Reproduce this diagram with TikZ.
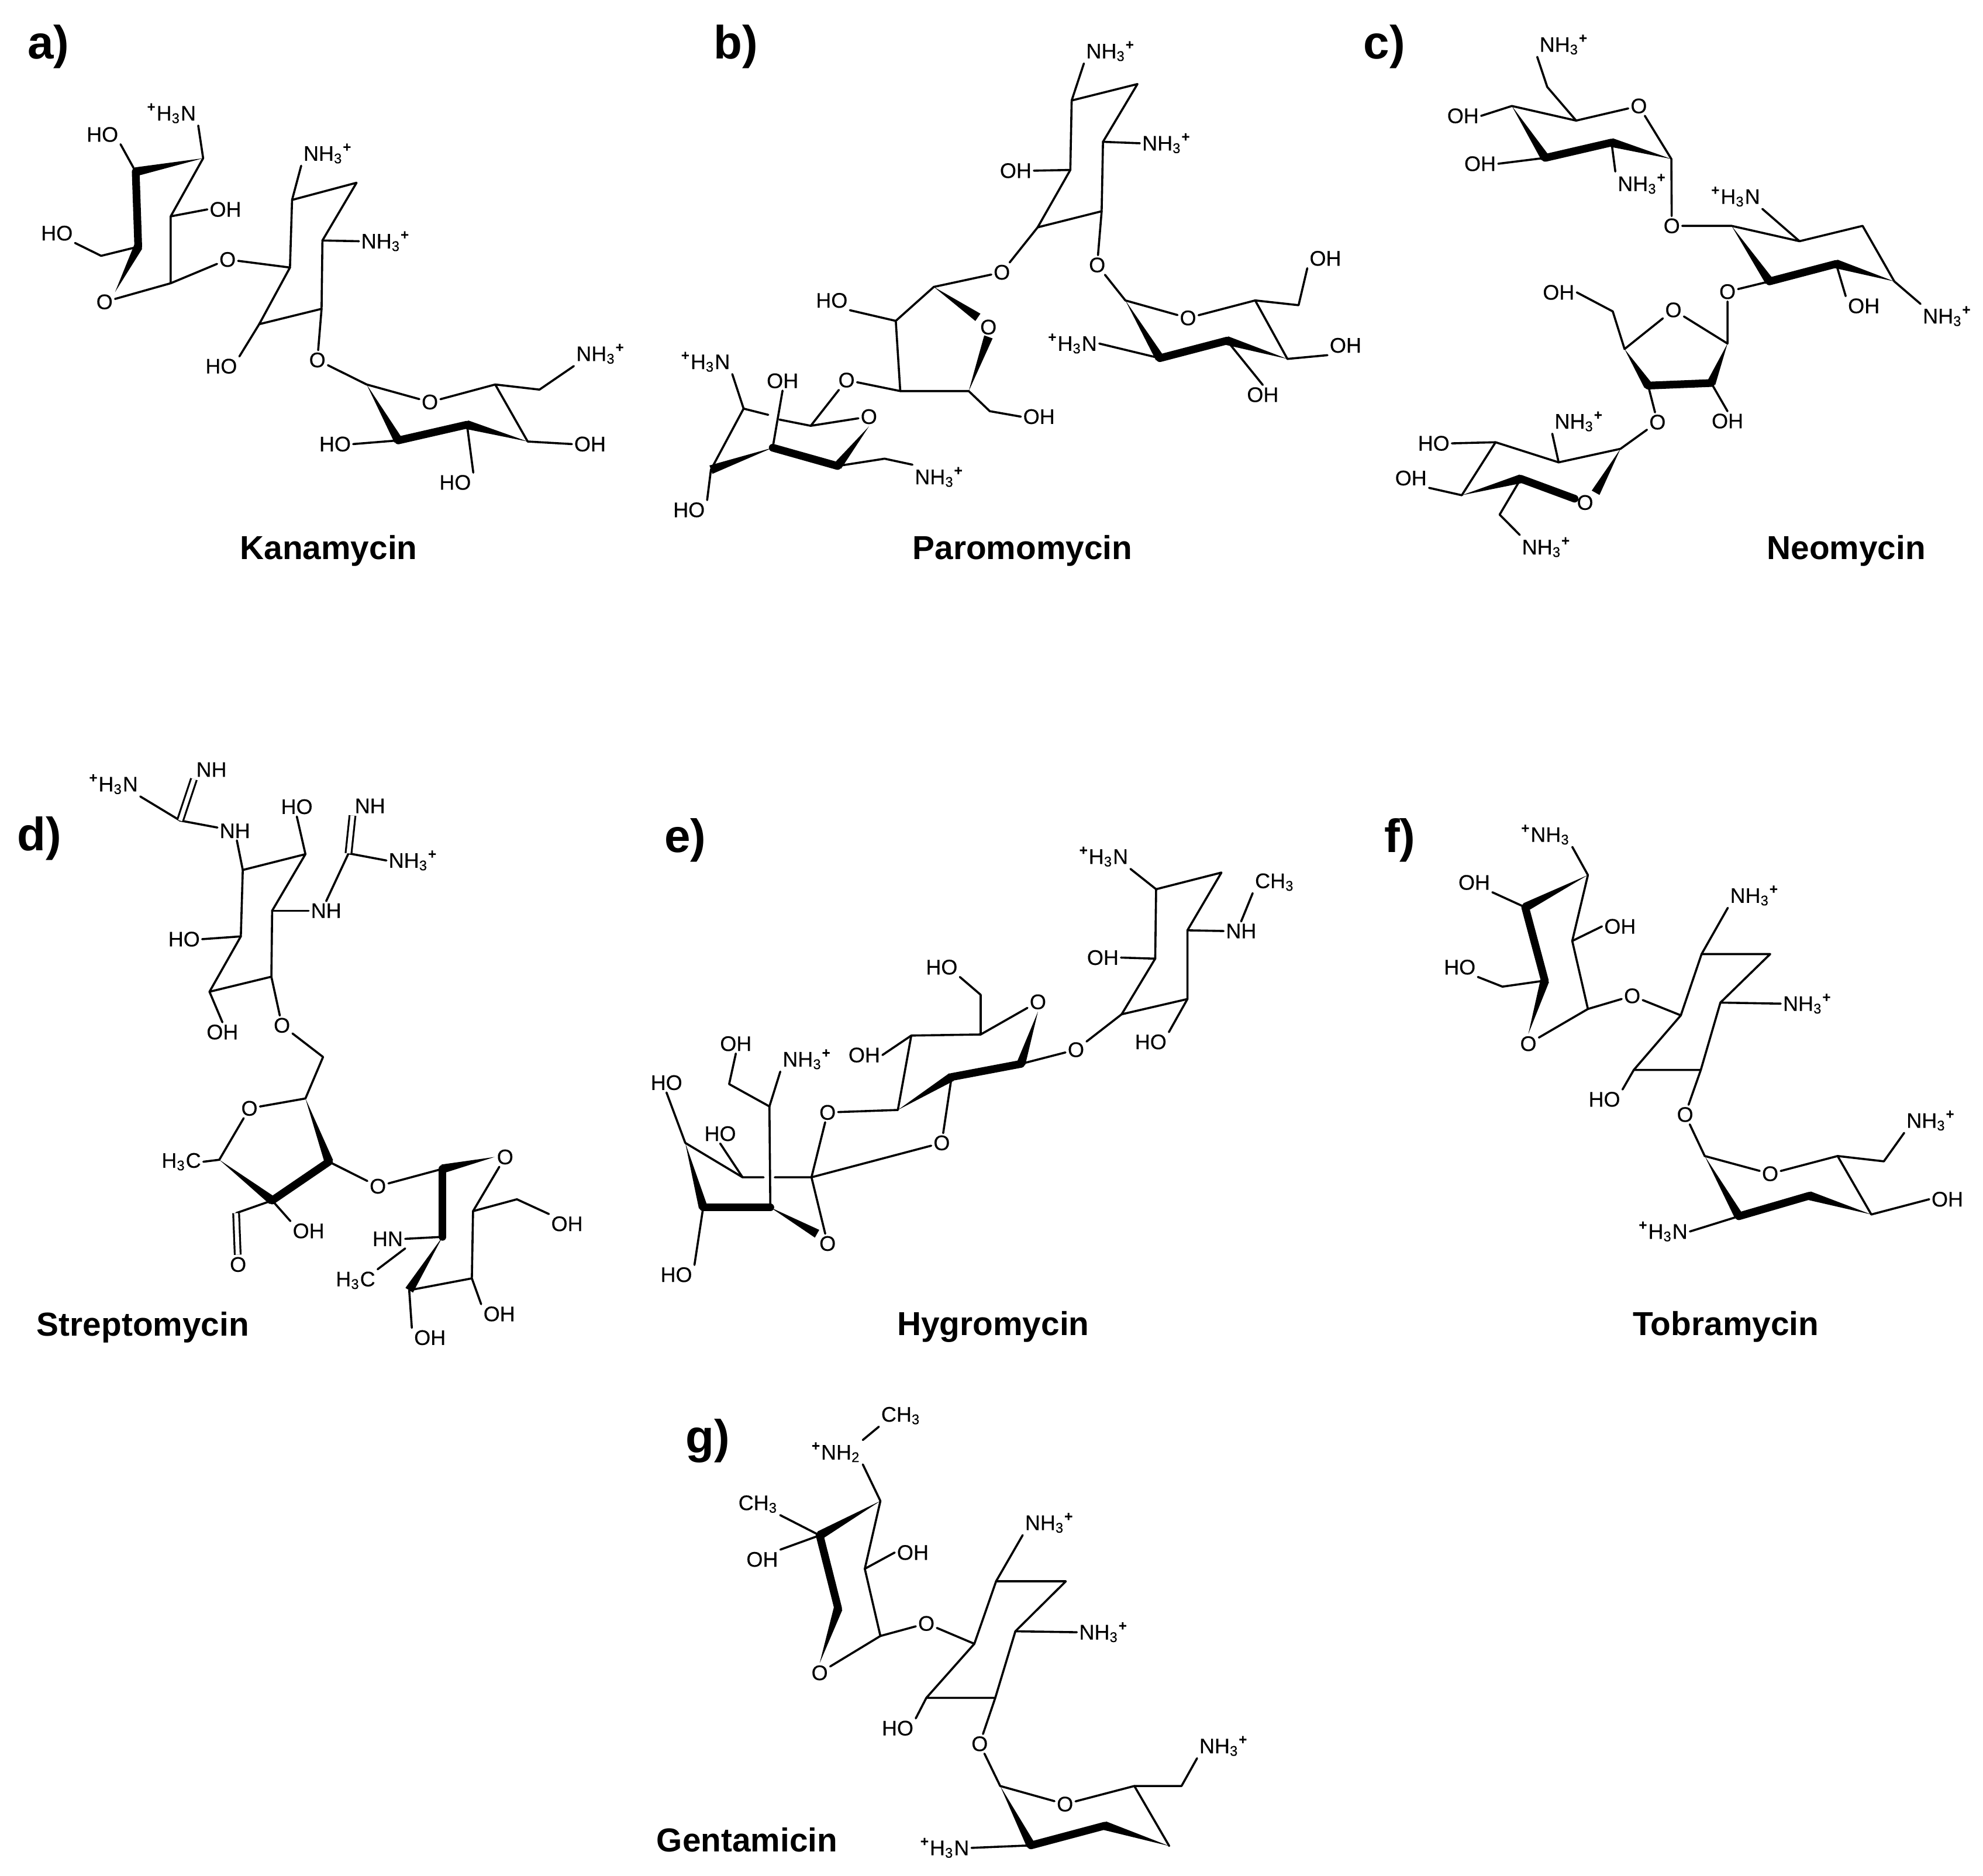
\documentclass[tikz,border=0pt]{standalone}
\usepackage{fontspec}
\setmainfont{Liberation Sans}
\newfontfamily\atomfont[FakeBold=0.3]{Liberation Sans}
\usetikzlibrary{calc}

\newcommand{\nhthree}{NH\textsubscript{3}\textsuperscript{\textbf{+}}}
\newcommand{\hthreen}{\textsuperscript{\textbf{+}}H\textsubscript{3}N}
\newcommand{\hthreec}{H\textsubscript{3}C}
\newcommand{\chthree}{CH\textsubscript{3}}
\newcommand{\wedgebond}[2]{\fill (#1) -- ($(#2)!1.9pt!90:(#1)$) -- ($(#2)!1.9pt!-90:(#1)$) -- cycle;}

\begin{document}
\begin{tikzpicture}[
    atom/.style={inner sep=0.8pt, font=\atomfont\fontsize{9}{10}\selectfont},
    drugname/.style={inner sep=0pt, yshift=-1pt, font=\bfseries\fontsize{14.2}{16}\selectfont},
    letter/.style={inner sep=0pt, yshift=-0.5pt, font=\bfseries\fontsize{20}{22}\selectfont},
    bond/.style={line width=0.9pt, line join=round, line cap=round},
    boldbond/.style={line width=3.3pt, line join=round, line cap=round},
    twobond/.style={line width=0.8pt, double, double distance=1.7pt}
]
\useasboundingbox (0pt,0pt) rectangle (847.75pt,-802pt);

% Kanamycin
\begin{scope}[shift={(0pt,0pt)}, x=0.18017pt, y=-0.15625pt]
\node[letter] (kanLetter) at (115,125) {a)};
\node[drugname] (kanName) at (780,1500) {Kanamycin};
\coordinate (kanC1) at (322,470);
\coordinate (kanC2) at (482,433);
\coordinate (kanC3) at (405,592);
\coordinate (kanC4) at (405,775);
\coordinate (kanC5) at (328,675);
\coordinate (kanC6) at (240,700);
\coordinate (kanD1) at (688,732);
\coordinate (kanD2) at (693,547);
\coordinate (kanD3) at (846,500);
\coordinate (kanD4) at (765,658);
\coordinate (kanD5) at (763,845);
\coordinate (kanD6) at (615,887);
\coordinate (kanE1) at (870,1052);
\coordinate (kanE2) at (1175,1052);
\coordinate (kanE3) at (1252,1208);
\coordinate (kanE4) at (1108,1162);
\coordinate (kanE5) at (945,1205);
\coordinate (kanE6) at (1280,1066);
\node[atom] (kanHO1) at (243,368) {HO};
\node[atom] (kanN1) at (407,310) {\hthreen};
\node[atom] (kanOH1) at (535,573) {OH};
\node[atom] (kanHO2) at (135,638) {HO};
\node[atom] (kanO1) at (248,826) {O};
\node[atom] (kanO2) at (540,710) {O};
\node[atom] (kanN2) at (778,420) {\nhthree};
\node[atom] (kanN3) at (915,660) {\nhthree};
\node[atom] (kanHO3) at (525,1002) {HO};
\node[atom] (kanO3) at (753,985) {O};
\node[atom] (kanO4) at (1020,1100) {O};
\node[atom] (kanN4) at (1425,968) {\nhthree};
\node[atom] (kanHO4) at (795,1215) {HO};
\node[atom] (kanHO5) at (1080,1320) {HO};
\node[atom] (kanOH2) at (1400,1215) {OH};
\draw[bond] (kanC1) -- (kanHO1.south east);
\draw[bond] (kanC2) -- (kanN1.south east) (kanC2) -- (kanC3) -- (kanC4) -- (kanO1);
\draw[bond] (kanC3) -- (kanOH1.west);
\draw[bond] (kanHO2.south east) -- (kanC6) -- (kanC5);
\draw[bond] (kanC4) -- (kanO2) -- (kanD1);
\draw[bond] (kanD1) -- (kanD2) -- (kanD3) -- (kanD4) -- (kanD5) -- (kanD6) -- cycle;
\draw[bond] (kanD2) -- (kanN2.south west);
\draw[bond] (kanD4) -- (kanN3.west);
\draw[bond] (kanD6) -- (kanHO3.north east);
\draw[bond] (kanD5) -- (kanO3) -- (kanE1) -- (kanO4) -- (kanE2) -- (kanE3);
\draw[bond] (kanE2) -- (kanE6) -- (kanN4.south west);
\draw[bond] (kanE5) -- (kanHO4.east);
\draw[bond] (kanE4) -- (kanHO5.north east);
\draw[bond] (kanE3) -- (kanOH2.west);
\wedgebond{kanC2}{kanC1}
\draw[boldbond] (kanC1) -- (kanC5);
\wedgebond{kanO1.north east}{kanC5}
\wedgebond{kanE1}{kanE5}
\draw[boldbond] (kanE5) -- (kanE4);
\wedgebond{kanE3}{kanE4}
\end{scope}

% Paromomycin
\begin{scope}[shift={(282.5pt,0pt)}, x=0.19133pt, y=-0.15625pt]
\node[letter] (parLetter) at (168,125) {b)};
\node[drugname] (parName) at (808,1500) {Paromomycin};
\coordinate (parC1) at (918,275);
\coordinate (parC2) at (1065,230);
\coordinate (parC3) at (988,388);
\coordinate (parC4) at (985,578);
\coordinate (parC5) at (842,622);
\coordinate (parC6) at (915,465);
\coordinate (parD1) at (610,785);
\coordinate (parD2) at (525,878);
\coordinate (parD3) at (535,1070);
\coordinate (parD4) at (688,1070);
\coordinate (parD5) at (735,1125);
\coordinate (parE1) at (335,1165);
\coordinate (parE2) at (395,1275);
\coordinate (parE3) at (250,1225);
\coordinate (parE4) at (112,1285);
\coordinate (parE5) at (185,1118);
\coordinate (parE6) at (500,1255);
\coordinate (parE7) at (240,1135);
\coordinate (parE8) at (265,1148);
\coordinate (parF1) at (1038,822);
\coordinate (parF2) at (1328,822);
\coordinate (parF3) at (1400,982);
\coordinate (parF4) at (1265,932);
\coordinate (parF5) at (1115,980);
\coordinate (parF6) at (1425,835);
\node[atom] (parN1) at (1005,140) {\nhthree};
\node[atom] (parN2) at (1130,392) {\nhthree};
\node[atom] (parOH1) at (793,467) {OH};
\node[atom] (parO1) at (975,725) {O};
\node[atom] (parO2) at (762,745) {O};
\node[atom] (parO3) at (732,895) {O};
\node[atom] (parHO1) at (382,822) {HO};
\node[atom] (parO4) at (415,1040) {O};
\node[atom] (parOH2) at (845,1140) {OH};
\node[atom] (parO5) at (465,1140) {O};
\node[atom] (parOH3) at (272,1042) {OH};
\node[atom] (parN3) at (100,990) {\hthreen};
\node[atom] (parN4) at (622,1305) {\nhthree};
\node[atom] (parHO2) at (63,1395) {HO};
\node[atom] (parO6) at (1178,870) {O};
\node[atom] (parOH4) at (1485,707) {OH};
\node[atom] (parOH5) at (1530,945) {OH};
\node[atom] (parOH6) at (1345,1080) {OH};
\node[atom] (parN5) at (920,940) {\hthreen};
\draw[bond] (parC1) -- (parC2) -- (parC3) -- (parC4) -- (parC5) -- (parC6) -- cycle;
\draw[bond] (parC1) -- (parN1.south west);
\draw[bond] (parC3) -- (parN2.west);
\draw[bond] (parC6) -- (parOH1.east);
\draw[bond] (parC4) -- (parO1);
\draw[bond] (parC5) -- (parO2) -- (parD1) -- (parD2) -- (parD3) -- (parD4);
\draw[bond] (parD2) -- (parHO1.south east);
\draw[bond] (parD3) -- (parO4) -- (parE1) -- (parO5);
\draw[bond] (parD4) -- (parD5) -- (parOH2.west);
\draw[bond] (parE5) -- (parE4);
\draw[bond] (parE5) -- (parE7) (parE8) -- (parE1);
\draw[bond] (parE3) -- (parOH3.south);
\draw[bond] (parE5) -- (parN3.south east);
\draw[bond] (parE2) -- (parE6) -- (parN4.north west);
\draw[bond] (parE4) -- (parHO2.north east);
\draw[bond] (parO1) -- (parF1) -- (parO6) -- (parF2) -- (parF3);
\draw[bond] (parF2) -- (parF6) -- (parOH4.south west);
\draw[bond] (parF3) -- (parOH5.south west);
\draw[bond] (parF4) -- (parOH6.north);
\draw[bond] (parF5) -- (parN5.east);
\wedgebond{parD1}{parO3.north west}
\wedgebond{parD4}{parO3.south}
\wedgebond{parO5.south}{parE2}
\draw[boldbond] (parE2) -- (parE3);
\wedgebond{parE3}{parE4}
\wedgebond{parF1}{parF5}
\draw[boldbond] (parF5) -- (parF4);
\wedgebond{parF3}{parF4}
\end{scope}

% Neomycin
\begin{scope}[shift={(575pt,0pt)}, x=0.17395pt, y=-0.15625pt]
\node[letter] (neoLetter) at (97,125) {c)};
\node[drugname] (neoName) at (1232,1500) {Neomycin};
\coordinate (neoC1) at (410,290);
\coordinate (neoC2) at (568,330);
\coordinate (neoC3) at (802,435);
\coordinate (neoC4) at (655,390);
\coordinate (neoC5) at (492,432);
\coordinate (neoC6) at (497,238);
\coordinate (neoD1) at (950,618);
\coordinate (neoD2) at (1117,660);
\coordinate (neoD3) at (1272,618);
\coordinate (neoD4) at (1350,770);
\coordinate (neoD5) at (1207,722);
\coordinate (neoD6) at (1043,770);
\coordinate (neoE1) at (940,940);
\coordinate (neoE2) at (687,955);
\coordinate (neoE3) at (745,1055);
\coordinate (neoE4) at (900,1048);
\coordinate (neoE5) at (658,852);
\coordinate (neoF1) at (677,1228);
\coordinate (neoF2) at (525,1265);
\coordinate (neoF3) at (370,1210);
\coordinate (neoF4) at (287,1355);
\coordinate (neoF5) at (432,1310);
\coordinate (neoF6) at (380,1408);
\node[atom] (neoO1) at (722,290) {O};
\node[atom] (neoN1) at (538,122) {\nhthree};
\node[atom] (neoOH1) at (290,317) {OH};
\node[atom] (neoOH2) at (332,448) {OH};
\node[atom] (neoN2) at (730,503) {\nhthree};
\node[atom] (neoO2) at (803,618) {O};
\node[atom] (neoN3) at (960,538) {\hthreen};
\node[atom] (neoN4) at (1480,865) {\nhthree};
\node[atom] (neoOH3) at (1275,837) {OH};
\node[atom] (neoO3) at (940,798) {O};
\node[atom] (neoO4) at (807,848) {O};
\node[atom] (neoOH4) at (525,800) {OH};
\node[atom] (neoOH5) at (940,1152) {OH};
\node[atom] (neoO5) at (768,1155) {O};
\node[atom] (neoO6) at (590,1375) {O};
\node[atom] (neoN5) at (575,1153) {\nhthree};
\node[atom] (neoHO1) at (218,1213) {HO};
\node[atom] (neoOH6) at (162,1308) {OH};
\node[atom] (neoN6) at (495,1497) {\nhthree};
\draw[bond] (neoC1) -- (neoC2) -- (neoO1) -- (neoC3) -- (neoO2) -- (neoD1) -- (neoD2) -- (neoD3) -- (neoD4);
\draw[bond] (neoC2) -- (neoC6) -- (neoN1.south west);
\draw[bond] (neoC1) -- (neoOH1.east);
\draw[bond] (neoC5) -- (neoOH2.east);
\draw[bond] (neoC4) -- (neoN2.north west);
\draw[bond] (neoD2) -- (neoN3.south east);
\draw[bond] (neoD4) -- (neoN4.north west);
\draw[bond] (neoD5) -- (neoOH3.north west);
\draw[bond] (neoD6) -- (neoO3) -- (neoE1) -- (neoO4) -- (neoE2);
\draw[bond] (neoE2) -- (neoE5) -- (neoOH4.east);
\draw[bond] (neoE4) -- (neoOH5.north);
\draw[bond] (neoE3) -- (neoO5) -- (neoF1) -- (neoF2) -- (neoF3) -- (neoF4);
\draw[bond] (neoF2) -- (neoN5.south west);
\draw[bond] (neoF3) -- (neoHO1.east);
\draw[bond] (neoF4) -- (neoOH6.south east);
\draw[bond] (neoF5) -- (neoF6) -- (neoN6.north west);
\wedgebond{neoC1}{neoC5}
\draw[boldbond] (neoC5) -- (neoC4);
\wedgebond{neoC3}{neoC4}
\wedgebond{neoD1}{neoD6}
\draw[boldbond] (neoD6) -- (neoD5);
\wedgebond{neoD4}{neoD5}
\wedgebond{neoE2}{neoE3}
\draw[boldbond] (neoE3) -- (neoE4);
\wedgebond{neoE1}{neoE4}
\wedgebond{neoF1}{neoO6.north east}
\wedgebond{neoF4}{neoF5}
\draw[boldbond] (neoF5) -- (neoO6);
\end{scope}

% Streptomycin
\begin{scope}[shift={(0pt,-317.5pt)}, x=0.16741pt, y=-0.16901pt]
\node[letter] (strLetter) at (100,240) {d)};
\node[drugname] (strName) at (365,1473) {Streptomycin};
\coordinate (strC1) at (620,322);
\coordinate (strC2) at (780,282);
\coordinate (strC3) at (695,425);
\coordinate (strC4) at (693,592);
\coordinate (strC5) at (535,630);
\coordinate (strC6) at (615,490);
\coordinate (strG1) at (460,197);
\coordinate (strG2) at (890,280);
\coordinate (strD0) at (825,795);
\coordinate (strD1) at (780,900);
\coordinate (strD2) at (560,1055);
\coordinate (strD3) at (695,1158);
\coordinate (strD4) at (840,1060);
\coordinate (strD5) at (603,1190);
\coordinate (strE1) at (1130,1078);
\coordinate (strE2) at (1208,1185);
\coordinate (strE3) at (1205,1355);
\coordinate (strE4) at (1045,1385);
\coordinate (strE5) at (1130,1250);
\coordinate (strE6) at (1320,1155);
\node[atom] (strN1) at (600,223) {NH};
\node[atom] (strN2) at (290,105) {\hthreen};
\node[atom] (strN3) at (540,68) {NH};
\node[atom] (strHO1) at (758,162) {HO};
\node[atom] (strN4) at (833,425) {NH};
\node[atom] (strN5) at (945,160) {NH};
\node[atom] (strN6) at (1055,298) {\nhthree};
\node[atom] (strHO2) at (470,497) {HO};
\node[atom] (strO1) at (720,715) {O};
\node[atom] (strOH1) at (568,732) {OH};
\node[atom] (strO2) at (637,925) {O};
\node[atom] (strCH1) at (463,1060) {\hthreec};
\node[atom] (strO3) at (608,1320) {O};
\node[atom] (strOH2) at (788,1235) {OH};
\node[atom] (strO4) at (965,1122) {O};
\node[atom] (strO5) at (1290,1048) {O};
\node[atom] (strOH3) at (1448,1217) {OH};
\node[atom] (strN7) at (990,1255) {HN};
\node[atom] (strCH2) at (908,1360) {\hthreec};
\node[atom] (strOH4) at (1275,1445) {OH};
\node[atom] (strOH5) at (1098,1505) {OH};
\draw[bond] (strC1) -- (strC2) -- (strC3) -- (strC4) -- (strC5) -- (strC6) -- cycle;
\draw[bond] (strC1) -- (strN1) -- (strG1) -- (strN2.south east);
\draw[twobond] (strG1) -- (strN3.south west);
\draw[bond] (strC2) -- (strHO1.south);
\draw[bond] (strC3) -- (strN4.west);
\draw[bond] (strN4.north) -- (strG2) -- (strN6.west);
\draw[twobond] (strG2) -- (strN5.south west);
\draw[bond] (strC6) -- (strHO2.east);
\draw[bond] (strC5) -- (strOH1.north);
\draw[bond] (strC4) -- (strO1) -- (strD0) -- (strD1) -- (strO2) -- (strD2) -- (strCH1.east);
\draw[bond] (strD3) -- (strD5);
\draw[twobond] (strD5) -- (strO3);
\draw[bond] (strD3) -- (strOH2.north west);
\draw[bond] (strD4) -- (strO4) -- (strE1);
\draw[bond] (strO5) -- (strE2) -- (strE3) -- (strE4);
\draw[bond] (strE2) -- (strE6) -- (strOH3.north west);
\draw[bond] (strE5) -- (strN7.east);
\draw[bond] (strN7.south east) -- (strCH2.north east);
\draw[bond] (strE3) -- (strOH4.north west);
\draw[bond] (strE4) -- (strOH5.north west);
\wedgebond{strD1}{strD4}
\draw[boldbond] (strD4) -- (strD3);
\wedgebond{strD2}{strD3}
\wedgebond{strO5.west}{strE1}
\draw[boldbond] (strE1) -- (strE5);
\wedgebond{strE5}{strE4}
\end{scope}

% Hygromycin
\begin{scope}[shift={(270pt,-345pt)}, x=0.19133pt, y=-0.15147pt]
\node[letter] (hygLetter) at (120,90) {e)};
\node[drugname] (hygName) at (808,1460) {Hygromycin};
\coordinate (hygC1) at (1172,232);
\coordinate (hygC2) at (1318,185);
\coordinate (hygC3) at (1242,348);
\coordinate (hygC4) at (1242,542);
\coordinate (hygC5) at (1095,585);
\coordinate (hygC6) at (1170,428);
\coordinate (hygD1) at (870,725);
\coordinate (hygD2) at (780,642);
\coordinate (hygD3) at (625,645);
\coordinate (hygD4) at (595,855);
\coordinate (hygD5) at (715,762);
\coordinate (hygD6) at (780,530);
\coordinate (hygE1) at (402,1045);
\coordinate (hygE2) at (248,1045);
\coordinate (hygE3) at (120,948);
\coordinate (hygE4) at (160,1130);
\coordinate (hygE5) at (310,1130);
\coordinate (hygE6) at (308,845);
\coordinate (hygE7) at (218,782);
\coordinate (hygE8) at (295,1045);
\coordinate (hygE9) at (320,1045);
\node[atom] (hygN1) at (1055,140) {\hthreen};
\node[atom] (hygN2) at (1362,350) {NH};
\node[atom] (hygCH1) at (1437,212) {\chthree};
\node[atom] (hygOH1) at (1053,425) {OH};
\node[atom] (hygHO1) at (1160,663) {HO};
\node[atom] (hygO1) at (993,685) {O};
\node[atom] (hygO2) at (908,550) {O};
\node[atom] (hygHO2) at (693,452) {HO};
\node[atom] (hygOH2) at (520,700) {OH};
\node[atom] (hygO3) at (438,862) {O};
\node[atom] (hygO4) at (693,948) {O};
\node[atom] (hygO5) at (438,1232) {O};
\node[atom] (hygHO3) at (198,922) {HO};
\node[atom] (hygHO4) at (78,778) {HO};
\node[atom] (hygHO5) at (100,1320) {HO};
\node[atom] (hygOH3) at (233,668) {OH};
\node[atom] (hygN3) at (392,712) {\nhthree};
\draw[bond] (hygC1) -- (hygC2) -- (hygC3) -- (hygC4) -- (hygC5) -- (hygC6) -- cycle;
\draw[bond] (hygC1) -- (hygN1.south east);
\draw[bond] (hygC3) -- (hygN2.west);
\draw[bond] (hygN2.north) -- (hygCH1.south west);
\draw[bond] (hygC6) -- (hygOH1.east);
\draw[bond] (hygC4) -- (hygHO1.north east);
\draw[bond] (hygC5) -- (hygO1) -- (hygD1);
\draw[bond] (hygO2) -- (hygD2) -- (hygD3) -- (hygD4) -- (hygO3) -- (hygE1) -- (hygO5);
\draw[bond] (hygD2) -- (hygD6) -- (hygHO2.south east);
\draw[bond] (hygD3) -- (hygOH2.east);
\draw[bond] (hygD5) -- (hygO4) -- (hygE1) -- (hygE9) (hygE8) -- (hygE2) -- (hygE3);
\draw[bond] (hygE2) -- (hygHO3.south);
\draw[bond] (hygE3) -- (hygHO4.south);
\draw[bond] (hygE4) -- (hygHO5.north east);
\draw[bond] (hygE5) -- (hygE6) -- (hygE7) -- (hygOH3.south);
\draw[bond] (hygE6) -- (hygN3.south west);
\wedgebond{hygO2.south}{hygD1}
\draw[boldbond] (hygD1) -- (hygD5);
\wedgebond{hygD4}{hygD5}
\wedgebond{hygE3}{hygE4}
\draw[boldbond] (hygE4) -- (hygE5);
\wedgebond{hygE5}{hygO5.north west}
\end{scope}

% Tobramycin
\begin{scope}[shift={(585pt,-345pt)}, x=0.16757pt, y=-0.15147pt]
\node[letter] (tobLetter) at (80,90) {f)};
\node[drugname] (tobName) at (912,1460) {Tobramycin};
\coordinate (tobC1) at (400,283);
\coordinate (tobC2) at (560,192);
\coordinate (tobC3) at (520,378);
\coordinate (tobC4) at (560,570);
\coordinate (tobC5) at (450,490);
\coordinate (tobC6) at (342,507);
\coordinate (tobD1) at (797,588);
\coordinate (tobD2) at (850,415);
\coordinate (tobD3) at (1025,415);
\coordinate (tobD4) at (898,552);
\coordinate (tobD5) at (848,742);
\coordinate (tobD6) at (677,742);
\coordinate (tobE1) at (858,985);
\coordinate (tobE2) at (1197,985);
\coordinate (tobE3) at (1283,1150);
\coordinate (tobE4) at (1125,1097);
\coordinate (tobE5) at (945,1155);
\coordinate (tobE6) at (1315,1000);
\node[atom] (tobN1) at (452,78) {\textsuperscript{\textbf{+}}NH\textsubscript{3}};
\node[atom] (tobOH1) at (270,213) {OH};
\node[atom] (tobOH2) at (642,337) {OH};
\node[atom] (tobHO1) at (233,452) {HO};
\node[atom] (tobO1) at (408,668) {O};
\node[atom] (tobO2) at (673,533) {O};
\node[atom] (tobN2) at (985,250) {\nhthree};
\node[atom] (tobN3) at (1120,555) {\nhthree};
\node[atom] (tobHO2) at (602,825) {HO};
\node[atom] (tobO3) at (808,868) {O};
\node[atom] (tobO4) at (1025,1035) {O};
\node[atom] (tobN4) at (1435,885) {\nhthree};
\node[atom] (tobOH3) at (1477,1107) {OH};
\node[atom] (tobN5) at (752,1198) {\hthreen};
\draw[bond] (tobC2) -- (tobC3) -- (tobC4) -- (tobO1);
\draw[bond] (tobC2) -- (tobN1.south east);
\draw[bond] (tobC1) -- (tobOH1.south east);
\draw[bond] (tobC3) -- (tobOH2.west);
\draw[bond] (tobC5) -- (tobC6) -- (tobHO1.south east);
\draw[bond] (tobC4) -- (tobO2) -- (tobD1);
\draw[bond] (tobD1) -- (tobD2) -- (tobD3) -- (tobD4) -- (tobD5) -- (tobD6) -- cycle;
\draw[bond] (tobD2) -- (tobN2.south west);
\draw[bond] (tobD4) -- (tobN3.west);
\draw[bond] (tobD6) -- (tobHO2.north east);
\draw[bond] (tobD5) -- (tobO3) -- (tobE1) -- (tobO4) -- (tobE2) -- (tobE3);
\draw[bond] (tobE2) -- (tobE6) -- (tobN4.south west);
\draw[bond] (tobE3) -- (tobOH3.west);
\draw[bond] (tobE5) -- (tobN5.east);
\wedgebond{tobC2}{tobC1}
\draw[boldbond] (tobC1) -- (tobC5);
\wedgebond{tobO1.north}{tobC5}
\wedgebond{tobE1}{tobE5}
\draw[boldbond] (tobE5) -- (tobE4);
\wedgebond{tobE3}{tobE4}
\end{scope}

% Gentamicin
\begin{scope}[shift={(275pt,-592.5pt)}, x=0.17538pt, y=-0.13361pt]
\node[letter] (genLetter) at (157,172) {g)};
\node[drugname] (genName) at (253,1445) {Gentamicin};
\coordinate (genC1) at (430,478);
\coordinate (genC2) at (578,368);
\coordinate (genC3) at (540,585);
\coordinate (genC4) at (578,800);
\coordinate (genC5) at (475,712);
\coordinate (genD1) at (807,825);
\coordinate (genD2) at (860,625);
\coordinate (genD3) at (1030,625);
\coordinate (genD4) at (907,785);
\coordinate (genD5) at (858,998);
\coordinate (genD6) at (690,998);
\coordinate (genE1) at (870,1280);
\coordinate (genE2) at (1197,1280);
\coordinate (genE3) at (1282,1472);
\coordinate (genE4) at (1125,1407);
\coordinate (genE5) at (945,1470);
\coordinate (genE6) at (1312,1280);
\node[atom] (genN1) at (470,212) {\textsuperscript{\textbf{+}}NH\textsubscript{2}};
\node[atom] (genCH1) at (628,95) {\chthree};
\node[atom] (genCH2) at (280,378) {\chthree};
\node[atom] (genOH1) at (290,555) {OH};
\node[atom] (genOH2) at (657,533) {OH};
\node[atom] (genO1) at (430,918) {O};
\node[atom] (genO2) at (690,760) {O};
\node[atom] (genN2) at (990,438) {\nhthree};
\node[atom] (genN3) at (1122,788) {\nhthree};
\node[atom] (genHO1) at (620,1095) {HO};
\node[atom] (genO3) at (820,1145) {O};
\node[atom] (genO4) at (1028,1338) {O};
\node[atom] (genN4) at (1415,1152) {\nhthree};
\node[atom] (genN5) at (735,1478) {\hthreen};
\draw[bond] (genC2) -- (genC3) -- (genC4) -- (genO1);
\draw[bond] (genC2) -- (genN1.south east);
\draw[bond] (genN1.north east) -- (genCH1.south west);
\draw[bond] (genC1) -- (genCH2.south east);
\draw[bond] (genC1) -- (genOH1.north east);
\draw[bond] (genC3) -- (genOH2.west);
\draw[bond] (genC4) -- (genO2) -- (genD1);
\draw[bond] (genD1) -- (genD2) -- (genD3) -- (genD4) -- (genD5) -- (genD6) -- cycle;
\draw[bond] (genD2) -- (genN2.south west);
\draw[bond] (genD4) -- (genN3.west);
\draw[bond] (genD6) -- (genHO1.north east);
\draw[bond] (genD5) -- (genO3) -- (genE1) -- (genO4) -- (genE2) -- (genE3);
\draw[bond] (genE2) -- (genE6) -- (genN4.south west);
\draw[bond] (genE5) -- (genN5.east);
\wedgebond{genC2}{genC1}
\draw[boldbond] (genC1) -- (genC5);
\wedgebond{genO1.north}{genC5}
\wedgebond{genE1}{genE5}
\draw[boldbond] (genE5) -- (genE4);
\wedgebond{genE3}{genE4}
\end{scope}

\end{tikzpicture}
\end{document}
